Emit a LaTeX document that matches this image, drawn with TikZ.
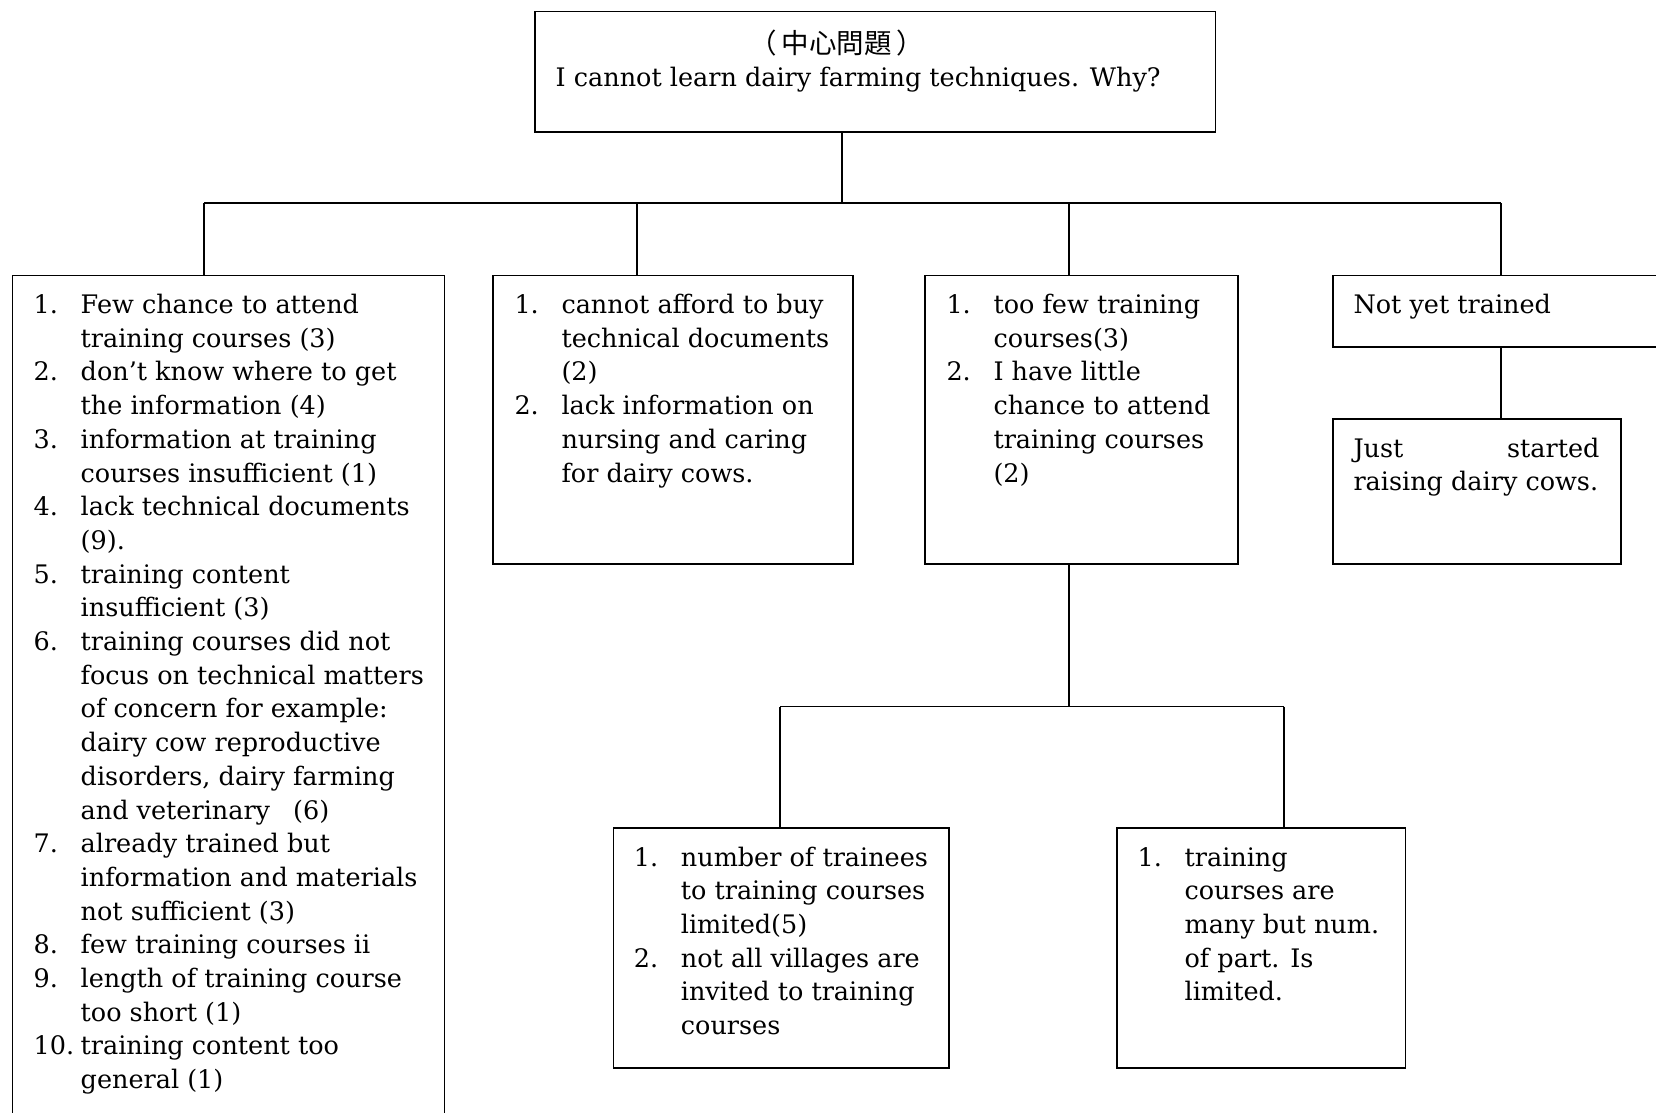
\documentclass[tikz,border=0pt]{standalone}
\usepackage{fontspec}
\setmainfont{DejaVu Serif}
\newfontfamily\cjk{Noto Sans CJK TC}
\usepackage{array}
\newcommand{\itemrows}[1]{\begin{tabular}[t]{@{}p{47pt}@{}l@{}}#1\end{tabular}}
\begin{document}
\begin{tikzpicture}[x=1pt,y=-1pt,
  box/.style={draw, line width=1.5pt, anchor=north west, inner sep=0pt},
  link/.style={line width=1.3pt},
  txt/.style={anchor=base west, inner sep=0pt, align=left,
    font=\fontsize{25.5}{33.7}\selectfont}]
\useasboundingbox (0,0) rectangle (1656,1112);
\fill[white] (0,0) rectangle (1656,1112);
\clip (0,0) rectangle (1656,1112);

% boxes
\node[box, minimum width=680.5pt, minimum height=120.4pt] (top) at (534,10.6) {};
\node[box, minimum width=432pt, minimum height=900pt] (A) at (11.6,274.6) {};
\node[box, minimum width=360pt, minimum height=288.4pt] (B) at (492,274.6) {};
\node[box, minimum width=313pt, minimum height=288.4pt] (C) at (924,274.6) {};
\node[box, minimum width=380pt, minimum height=71.8pt] (D) at (1332,274.6) {};
\node[box, minimum width=288pt, minimum height=145pt] (E) at (1332,418) {};
\node[box, minimum width=335.5pt, minimum height=240pt] (F) at (612.5,827) {};
\node[box, minimum width=288.6pt, minimum height=240pt] (G) at (1116,827) {};

% texts
\node[txt, anchor=base, font=\fontsize{27.5}{33.7}\selectfont] (topcn) at (837,53) {\cjk （\,中心問題\,）};
\node[txt] (topen) at (555.5,86.6) {I cannot learn dairy farming techniques. Why?};

\node[txt] (Atext) at (33.5,313.5) {\itemrows{%
1. & Few chance to attend\\
   & training courses (3)\\
2. & don’t know where to get\\
   & the information (4)\\
3. & information at training\\
   & courses insufficient (1)\\
4. & lack technical documents\\
   & (9).\\
5. & training content\\
   & insufficient (3)\\
6. & training courses did not\\
   & focus on technical matters\\
   & of concern for example:\\
   & dairy cow reproductive\\
   & disorders, dairy farming\\
   & and veterinary\hspace{0.9em}(6)\\
7. & already trained but\\
   & information and materials\\
   & not sufficient (3)\\
8. & few training courses ii\\
9. & length of training course\\
   & too short (1)\\
10. & training content too\\
   & general (1)}};

\node[txt] (Btext) at (514.3,313.5) {\itemrows{%
1. & cannot afford to buy\\
   & technical documents\\
   & (2)\\
2. & lack information on\\
   & nursing and caring\\
   & for dairy cows.}};

\node[txt] (Ctext) at (946.3,313.5) {\itemrows{%
1. & too few training\\
   & courses(3)\\
2. & I have little\\
   & chance to attend\\
   & training courses\\
   & (2)}};

\node[txt] (Dtext) at (1353.3,313.5) {Not yet trained};

\node[txt] (Etext) at (1353.3,457) {\begin{tabular}[t]{@{}l@{}}%
\hbox to 246pt{Just\hfill started}\\
raising dairy cows.\end{tabular}};

\node[txt] (Ftext) at (633.7,866) {\itemrows{%
1. & number of trainees\\
   & to training courses\\
   & limited(5)\\
2. & not all villages are\\
   & invited to training\\
   & courses}};

\node[txt] (Gtext) at (1137.4,866) {\itemrows{%
1. & training\\
   & courses are\\
   & many but num.\\
   & of part. Is\\
   & limited.}};

% first level connectors
\coordinate (t0) at (842,203);
\coordinate (jA) at (204,203);
\coordinate (jB) at (637,203);
\coordinate (jC) at (1069,203);
\coordinate (jD) at (1501,203);
\draw[link] (t0 |- top.south) -- (t0);
\draw[link] (jA) -- (jD);
\draw[link] (jA) -- (jA |- A.north);
\draw[link] (jB) -- (jB |- B.north);
\draw[link] (jC) -- (jC |- C.north);
\draw[link] (jD) -- (jD |- D.north);
\draw[link] (D.south -| jD) -- (E.north -| jD);

% second level connectors
\coordinate (k0) at (1069,706.5);
\coordinate (kF) at (780,706.5);
\coordinate (kG) at (1284,706.5);
\draw[link] (C.south -| k0) -- (k0);
\draw[link] (kF) -- (kG);
\draw[link] (kF) -- (kF |- F.north);
\draw[link] (kG) -- (kG |- G.north);
\end{tikzpicture}
\end{document}
